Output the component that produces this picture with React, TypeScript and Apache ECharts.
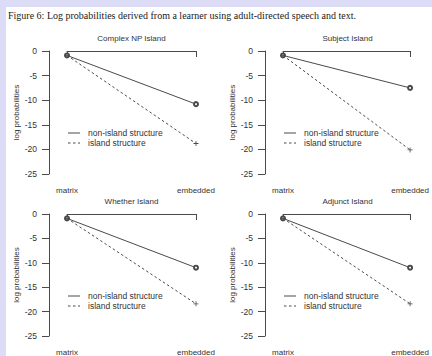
import React, { useEffect, useRef } from "react";
import * as echarts from "echarts";

const figureTitle =
  "Figure 6: Log probabilities derived from a learner using adult-directed speech and text.";
const categories = ["matrix", "embedded"];
const panelTitles = ["Complex NP Island", "Subject Island", "Whether Island", "Adjunct Island"];
const legendNames = ["non-island structure", "island structure"];
const yAxisName = "log probabilities";

const complexNonIsland = [-0.9, -10.8];
const complexIsland = [-0.9, -18.8];
const subjectNonIsland = [-0.9, -7.5];
const subjectIsland = [-0.9, -20.1];
const whetherNonIsland = [-0.9, -11.0];
const whetherIsland = [-0.9, -18.4];
const adjunctNonIsland = [-0.9, -11.0];
const adjunctIsland = [-0.9, -18.4];

const nonIslandSets = [complexNonIsland, subjectNonIsland, whetherNonIsland, adjunctNonIsland];
const islandSets = [complexIsland, subjectIsland, whetherIsland, adjunctIsland];

const yMin = -25;
const yMax = 0;
const yInterval = 5;

const INK = "#333333";
const LINE = "#4a4a4a";
const SANS = '"Liberation Sans", Arial, sans-serif';
const PLUS = "path://M0,4.2h10v1.6h-10z M4.2,0h1.6v10h-1.6z";

export default function App() {
  const ref = useRef<HTMLDivElement>(null);
  useEffect(() => {
    document.body.style.margin = "0";
    if (!ref.current) return;
    const chart = echarts.init(ref.current, null, { renderer: "svg" });

    const dx = 216;
    const dy = 163;
    const grids: any[] = [];
    const xAxes: any[] = [];
    const yAxes: any[] = [];
    const series: any[] = [];
    const graphics: any[] = [
      { type: "rect", shape: { x: 0, y: 0, width: 432, height: 7 }, style: { fill: "#dcdcf7" }, silent: true },
      { type: "rect", shape: { x: 0, y: 0, width: 6, height: 356 }, style: { fill: "#dcdcf7" }, silent: true },
      {
        type: "text",
        x: 8,
        y: 15,
        style: {
          text: figureTitle,
          font: '10px "Liberation Serif", "Times New Roman", serif',
          fill: "#1a1a1a",
          align: "left",
          verticalAlign: "middle",
          textAlign: "left",
          textVerticalAlign: "middle",
        },
        silent: true,
      },
    ];

    panelTitles.forEach((title, i) => {
      const ox = (i % 2) * dx;
      const oy = Math.floor(i / 2) * dy;
      grids.push({ left: 67 + ox, top: 51 + oy, width: 129, height: 123 });
      xAxes.push({
        gridIndex: i,
        type: "category",
        data: categories,
        boundaryGap: false,
        offset: 4,
        axisLine: { show: true, lineStyle: { color: LINE, width: 1 } },
        axisTick: { show: true, length: 6, lineStyle: { color: LINE, width: 1 } },
        axisLabel: { margin: 8, fontSize: 8, color: INK, fontFamily: SANS, interval: 0 },
        splitLine: { show: false },
      });
      yAxes.push({
        gridIndex: i,
        type: "value",
        min: yMin,
        max: yMax,
        interval: yInterval,
        offset: 18,
        axisLine: { show: true, lineStyle: { color: LINE, width: 1 } },
        axisTick: { show: true, length: 7, lineStyle: { color: LINE, width: 1 } },
        axisLabel: { margin: 12, fontSize: 8.5, color: INK, fontFamily: SANS },
        splitLine: { show: false },
        name: yAxisName,
        nameLocation: "middle",
        nameGap: 23,
        nameRotate: 90,
        nameTextStyle: { fontSize: 8, color: INK, fontFamily: SANS },
      });
      series.push({
        type: "line",
        name: legendNames[0],
        xAxisIndex: i,
        yAxisIndex: i,
        data: nonIslandSets[i],
        symbol: "emptyCircle",
        symbolSize: 4,
        lineStyle: { color: LINE, width: 1, type: "solid" },
        itemStyle: { color: LINE, borderWidth: 0.9 },
        silent: true,
        z: 2,
      });
      series.push({
        type: "line",
        name: legendNames[1],
        xAxisIndex: i,
        yAxisIndex: i,
        data: islandSets[i],
        symbol: PLUS,
        symbolSize: 5,
        lineStyle: { color: LINE, width: 1, type: [2.5, 2.5] },
        itemStyle: { color: LINE, borderWidth: 0 },
        silent: true,
        z: 3,
      });

      graphics.push({
        type: "text",
        x: 131.5 + ox,
        y: 38.5 + oy,
        style: {
          text: title,
          font: `8px ${SANS}`,
          fill: INK,
          align: "center",
          verticalAlign: "middle",
          textAlign: "center",
          textVerticalAlign: "middle",
        },
        silent: true,
      });
      legendNames.forEach((nm, k) => {
        const ly = 133 + k * 10 + oy;
        graphics.push({
          type: "line",
          shape: { x1: 68 + ox, y1: ly, x2: 80 + ox, y2: ly },
          style: { stroke: LINE, lineWidth: 1, lineDash: k === 0 ? null : [2.5, 2.5] },
          silent: true,
        });
        graphics.push({
          type: "text",
          x: 88 + ox,
          y: ly,
          style: {
            text: nm,
            font: `8.5px ${SANS}`,
            fill: INK,
            align: "left",
            verticalAlign: "middle",
            textAlign: "left",
            textVerticalAlign: "middle",
          },
          silent: true,
        });
      });
    });

    chart.setOption({
      animation: false,
      backgroundColor: "#ffffff",
      grid: grids,
      xAxis: xAxes,
      yAxis: yAxes,
      series,
      graphic: graphics,
    });
    return () => chart.dispose();
  }, []);
  return <div ref={ref} style={{ width: 432, height: 356 }} />;
}
